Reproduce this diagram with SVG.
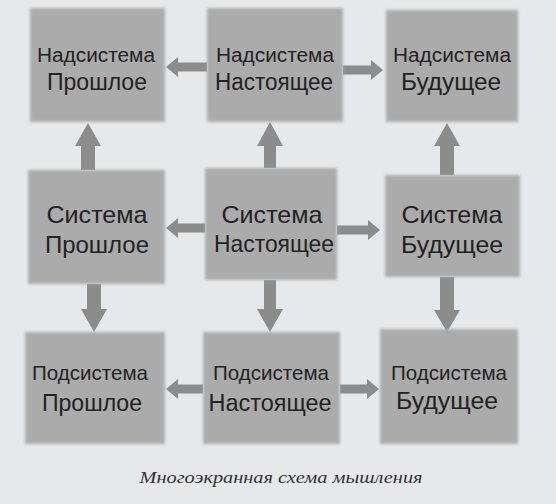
<svg xmlns="http://www.w3.org/2000/svg" width="556" height="504" viewBox="0 0 556 504">
<defs>
<style>
.box{fill:#ababab;filter:url(#soft);}
.arr{fill:#8c8c8c;filter:url(#soft2);}
text{font-family:"Liberation Sans",Arial,sans-serif;fill:#222;text-anchor:middle;}
.t1{font-size:20px;}
.t2{font-size:23px;}
.m{font-size:24px;}
.b1{font-size:21px;}
.cap{font-family:"Liberation Serif","Times New Roman",serif;font-style:italic;font-size:16px;fill:#333;}
</style>
<filter id="soft" x="-10%" y="-10%" width="120%" height="120%"><feGaussianBlur stdDeviation="1.4"/></filter>
<filter id="soft2" x="-20%" y="-20%" width="140%" height="140%"><feGaussianBlur stdDeviation="0.7"/></filter>
</defs>
<rect x="0" y="0" width="556" height="504" fill="#e6e8ea"/>
<g id="connectors">
<polygon class="arr" points="207,62.5 178,62.5 178,57 166,67 178,77 178,71.5 207,71.5"/>
<polygon class="arr" points="343,65.5 371,65.5 371,60 383,70 371,80 371,74.5 343,74.5"/>
<polygon class="arr" points="205,223.5 178,223.5 178,218 166,228 178,238 178,232.5 205,232.5"/>
<polygon class="arr" points="337,225.5 368,225.5 368,220 380,230 368,240 368,234.5 337,234.5"/>
<polygon class="arr" points="203,384.5 178,384.5 178,379 166,389 178,399 178,393.5 203,393.5"/>
<polygon class="arr" points="340,384.5 367,384.5 367,379 379,389 367,399 367,393.5 340,393.5"/>
<polygon class="arr" points="81,170 81,146 75,146 88,123 101,146 95,146 95,170"/>
<polygon class="arr" points="264,168 264,146 257,146 270,122 283,146 276,146 276,168"/>
<polygon class="arr" points="440,175 440,146 434,146 447,123 460,146 454,146 454,175"/>
<polygon class="arr" points="87,284 87,309 81,309 94,332 107,309 101,309 101,284"/>
<polygon class="arr" points="264,280 264,309 257,309 270,332 283,309 276,309 276,280"/>
<polygon class="arr" points="440,277 440,310 434,310 447,332 460,310 454,310 454,277"/>
</g>
<g id="n1"><rect class="box" x="30" y="8" width="135" height="114"/><text class="t1" x="96" y="62" textLength="118" lengthAdjust="spacingAndGlyphs">Надсистема</text><text class="t2" x="97" y="90" textLength="100" lengthAdjust="spacingAndGlyphs">Прошлое</text></g>
<g id="n2"><rect class="box" x="207" y="8" width="136" height="114"/><text class="t1" x="275" y="62" textLength="118" lengthAdjust="spacingAndGlyphs">Надсистема</text><text class="t2" x="274" y="90" textLength="118" lengthAdjust="spacingAndGlyphs">Настоящее</text></g>
<g id="n3"><rect class="box" x="386" y="10" width="132" height="112"/><text class="t1" x="452" y="62" textLength="118" lengthAdjust="spacingAndGlyphs">Надсистема</text><text class="t2" x="451" y="90" textLength="100" lengthAdjust="spacingAndGlyphs">Будущее</text></g>
<g id="n4"><rect class="box" x="28" y="170" width="137" height="114"/><text class="m" x="97" y="223" textLength="101" lengthAdjust="spacingAndGlyphs">Система</text><text class="m" x="97" y="253" textLength="104" lengthAdjust="spacingAndGlyphs">Прошлое</text></g>
<g id="n5"><rect class="box" x="205" y="168" width="132" height="112"/><text class="m" x="272" y="223" textLength="101" lengthAdjust="spacingAndGlyphs">Система</text><text class="m" x="274" y="252" textLength="120" lengthAdjust="spacingAndGlyphs">Настоящее</text></g>
<g id="n6"><rect class="box" x="385" y="175" width="135" height="102"/><text class="m" x="452" y="223" textLength="101" lengthAdjust="spacingAndGlyphs">Система</text><text class="m" x="452" y="253" textLength="102" lengthAdjust="spacingAndGlyphs">Будущее</text></g>
<g id="n7"><rect class="box" x="25" y="332" width="140" height="112"/><text class="b1" x="90" y="380" textLength="116" lengthAdjust="spacingAndGlyphs">Подсистема</text><text class="t2" x="92" y="411" textLength="100" lengthAdjust="spacingAndGlyphs">Прошлое</text></g>
<g id="n8"><rect class="box" x="203" y="332" width="137" height="112"/><text class="b1" x="271" y="380" textLength="116" lengthAdjust="spacingAndGlyphs">Подсистема</text><text class="t2" x="270" y="411" textLength="123" lengthAdjust="spacingAndGlyphs">Настоящее</text></g>
<g id="n9"><rect class="box" x="380" y="329" width="138" height="115"/><text class="b1" x="449" y="380" textLength="116" lengthAdjust="spacingAndGlyphs">Подсистема</text><text class="t2" x="447" y="409" textLength="102" lengthAdjust="spacingAndGlyphs">Будущее</text></g>
<text class="cap" x="281" y="483" textLength="283" lengthAdjust="spacingAndGlyphs">Многоэкранная схема мышления</text>
</svg>
